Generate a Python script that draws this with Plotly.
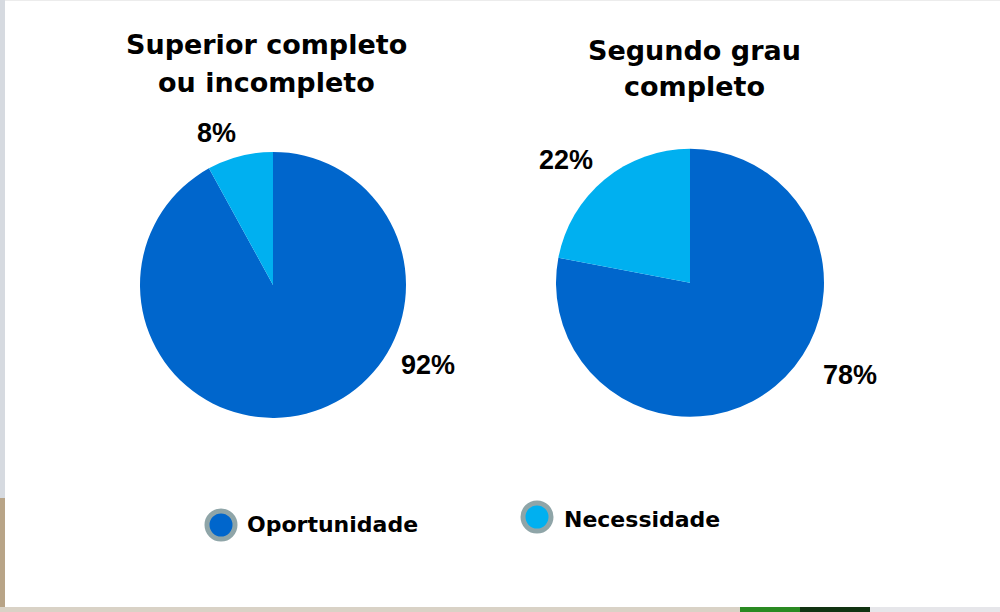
"""Duas pizzas: motivação por escolaridade (Oportunidade x Necessidade)."""

import plotly.graph_objects as go

CATEGORIAS = ["Oportunidade", "Necessidade"]
CORES = ["#0066CC", "#00B0F0"]

TITULO_SUPERIOR = ["Superior completo", "ou incompleto"]
TITULO_SEGUNDO = ["Segundo grau", "completo"]

VALORES_SUPERIOR = [92, 8]
VALORES_SEGUNDO = [78, 22]

TITLE_FONT = dict(family="DejaVu Sans, sans-serif", size=27, color="#000000")
PCT_FONT = dict(family="Liberation Sans, Arial, sans-serif", size=27, color="#000000")
LEG_FONT = dict(family="DejaVu Sans, sans-serif", size=22, color="#000000")


def _pie(values, x_dom, y_dom):
    return go.Pie(
        labels=CATEGORIAS,
        values=values,
        marker=dict(colors=CORES, line=dict(width=0)),
        sort=False,
        direction="clockwise",
        rotation=0,
        textinfo="none",
        hoverinfo="label+percent",
        showlegend=False,
        domain=dict(x=x_dom, y=y_dom),
    )


def _px(x, y):
    # pixels (a partir do topo) -> coordenadas paper
    return x / 1000, 1 - y / 612


fig = go.Figure()
fig.add_trace(_pie(VALORES_SUPERIOR, [0.140, 0.406], [0.317, 0.752]))
fig.add_trace(_pie(VALORES_SEGUNDO, [0.556, 0.824], [0.319, 0.757]))

annotations = []
# títulos, uma linha por anotação para controlar o espaçamento
for linhas, px, ys in [(TITULO_SUPERIOR, 266, (45, 83)), (TITULO_SEGUNDO, 694, (50, 87))]:
    for texto, py in zip(linhas, ys):
        x, y = _px(px, py)
        annotations.append(dict(
            text=f"<b>{texto}</b>", x=x, y=y, xref="paper", yref="paper",
            showarrow=False, font=TITLE_FONT, xanchor="center", yanchor="middle",
        ))

# rótulos de percentual (posição estilo PowerPoint)
pos_rotulos = [
    (VALORES_SUPERIOR[0], (428, 365)),
    (VALORES_SUPERIOR[1], (216, 133)),
    (VALORES_SEGUNDO[0], (850, 375)),
    (VALORES_SEGUNDO[1], (566, 160)),
]
for v, (px, py) in pos_rotulos:
    x, y = _px(px, py)
    annotations.append(dict(
        text=f"<b>{v}%</b>", x=x, y=y, xref="paper", yref="paper",
        showarrow=False, font=PCT_FONT, xanchor="center", yanchor="middle",
    ))

# legenda manual: círculo com borda cinza + texto
shapes = []
legenda = [
    (CATEGORIAS[0], CORES[0], (221, 525), 245, 524),
    (CATEGORIAS[1], CORES[1], (537, 517), 562, 519),
]
for nome, cor, (cx, cy), tx, ty in legenda:
    r = 14
    x0, y1 = _px(cx - r, cy - r)
    x1, y0 = _px(cx + r, cy + r)
    shapes.append(dict(
        type="circle", xref="paper", yref="paper",
        x0=x0, x1=x1, y0=y0, y1=y1,
        fillcolor=cor, line=dict(color="#8FA5A8", width=5),
    ))
    x, y = _px(tx, ty)
    annotations.append(dict(
        text=f"<b>{nome}</b>", x=x, y=y, xref="paper", yref="paper",
        showarrow=False, font=LEG_FONT, xanchor="left", yanchor="middle",
    ))

# bordas do slide (fundo)
bordas = [
    (0, 0, 5, 498, "#D6DAE0"),
    (0, 498, 5, 612, "#B8A487"),
    (0, 607, 740, 612, "#D9D2C6"),
    (740, 607, 800, 612, "#2A8A22"),
    (800, 607, 870, 612, "#123312"),
    (870, 607, 1000, 612, "#E6E6EA"),
    (5, 0, 1000, 1, "#ECECEC"),
]
for ax, ay, bx, by, cor in bordas:
    x0, y1 = _px(ax, ay)
    x1, y0 = _px(bx, by)
    shapes.append(dict(
        type="rect", xref="paper", yref="paper", layer="below",
        x0=x0, x1=x1, y0=y0, y1=y1, fillcolor=cor, line=dict(width=0),
    ))

fig.update_layout(
    width=1000,
    height=612,
    margin=dict(l=0, r=0, t=0, b=0),
    paper_bgcolor="#FFFFFF",
    plot_bgcolor="#FFFFFF",
    annotations=annotations,
    shapes=shapes,
)

fig.write_html(
    "out.html",
    config={"displayModeBar": False},
    post_script="document.body.style.margin='0';document.body.style.overflow='hidden';",
)
